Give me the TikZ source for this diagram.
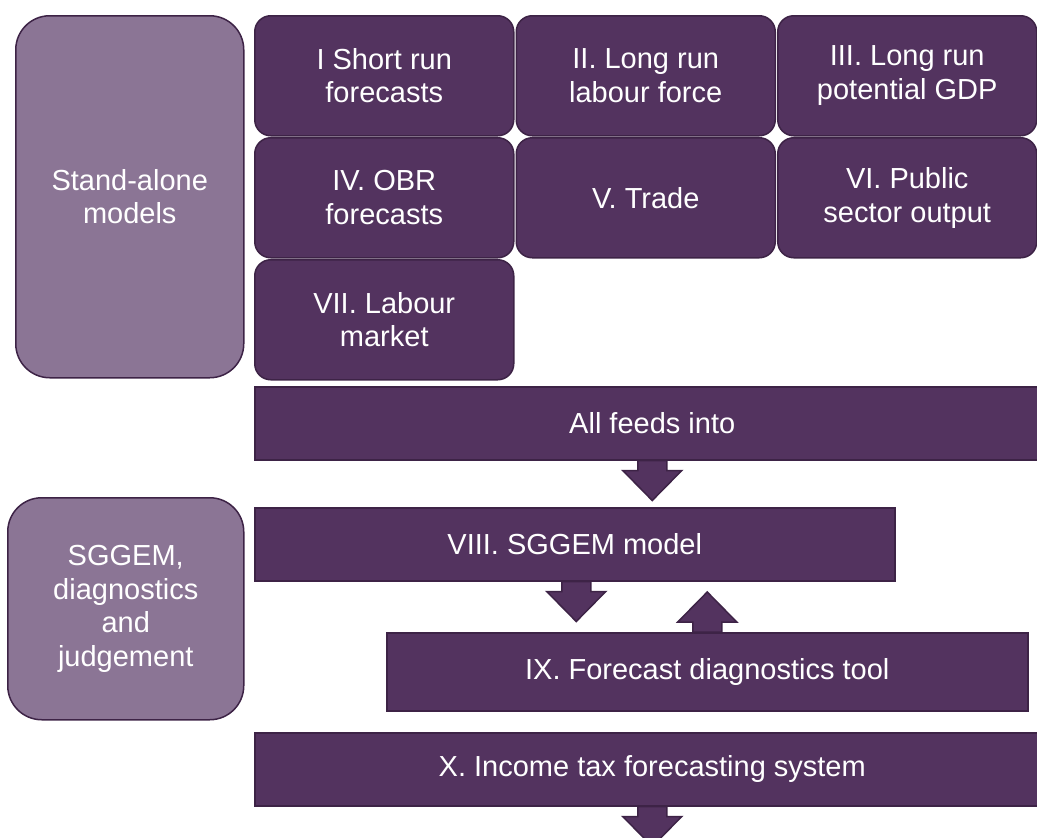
\documentclass[tikz,border=0pt]{standalone}
\usepackage{fontspec}
\setmainfont{Liberation Sans}
\definecolor{plum}{RGB}{83,51,95}
\definecolor{lightplum}{RGB}{139,117,149}
\definecolor{plumedge}{RGB}{61,35,70}
\tikzset{
  box/.style={draw=plumedge, line width=1.5pt, fill=plum, text=white, anchor=north west,
    align=center, inner sep=0pt, font=\fontsize{29}{33.5}\selectfont},
  model/.style={box, rounded corners=16pt, minimum width=259pt, minimum height=120pt},
  stage/.style={box, rounded corners=34pt, fill=lightplum, minimum width=228pt},
  bar/.style={box, minimum height=73pt},
  blockdown/.pic={
    \filldraw[draw=plumedge, line width=1.5pt, fill=plum] (-14.5,0) -- (-14.5,10) -- (-29.5,10)
      -- (0,40) -- (29.5,10) -- (14.5,10) -- (14.5,0) -- cycle;
  }
}

\begin{document}
\begin{tikzpicture}[x=1pt, y=-1pt]
  \useasboundingbox (0,0) rectangle (1037,838);
  % stand-alone models
  \node[stage, minimum height=362pt] (standalone) at (15,15) {Stand-alone\\models};
  \node[model] (shortrun) at (254,15) {I Short run\\forecasts};
  \node[model] (labour) at (515.5,15) {II. Long run\\labour force};
  \node[model] (potential) at (777,15) {III. Long run\\potential GDP};
  \node[model] (obr) at (254,137) {IV. OBR\\forecasts};
  \node[model] (trade) at (515.5,137) {V. Trade};
  \node[model] (public) at (777,137) {VI. Public\\sector output};
  \node[model] (market) at (254,259) {VII. Labour\\market};
  \node[bar, minimum width=795pt] (feeds) at (254,386) {All feeds into};
  % SGGEM, diagnostics and judgement
  \node[stage, minimum width=236pt, minimum height=222pt] (judgement) at (7,497) {SGGEM,\\diagnostics\\and\\judgement};
  \node[bar, minimum width=640pt] (sggem) at (254,507) {VIII. SGGEM model};
  \node[bar, minimum width=641pt, minimum height=78pt] (diag) at (386,632) {IX. Forecast diagnostics tool};
  \node[bar, minimum width=795pt] (incometax) at (254,732) {X. Income tax forecasting system};
  \pic at (feeds.south) {blockdown};
  \pic at ([xshift=1.5pt]sggem.south) {blockdown};
  \pic[rotate=180] at (diag.north) {blockdown};
  \pic at (incometax.south) {blockdown};
\end{tikzpicture}
\end{document}
